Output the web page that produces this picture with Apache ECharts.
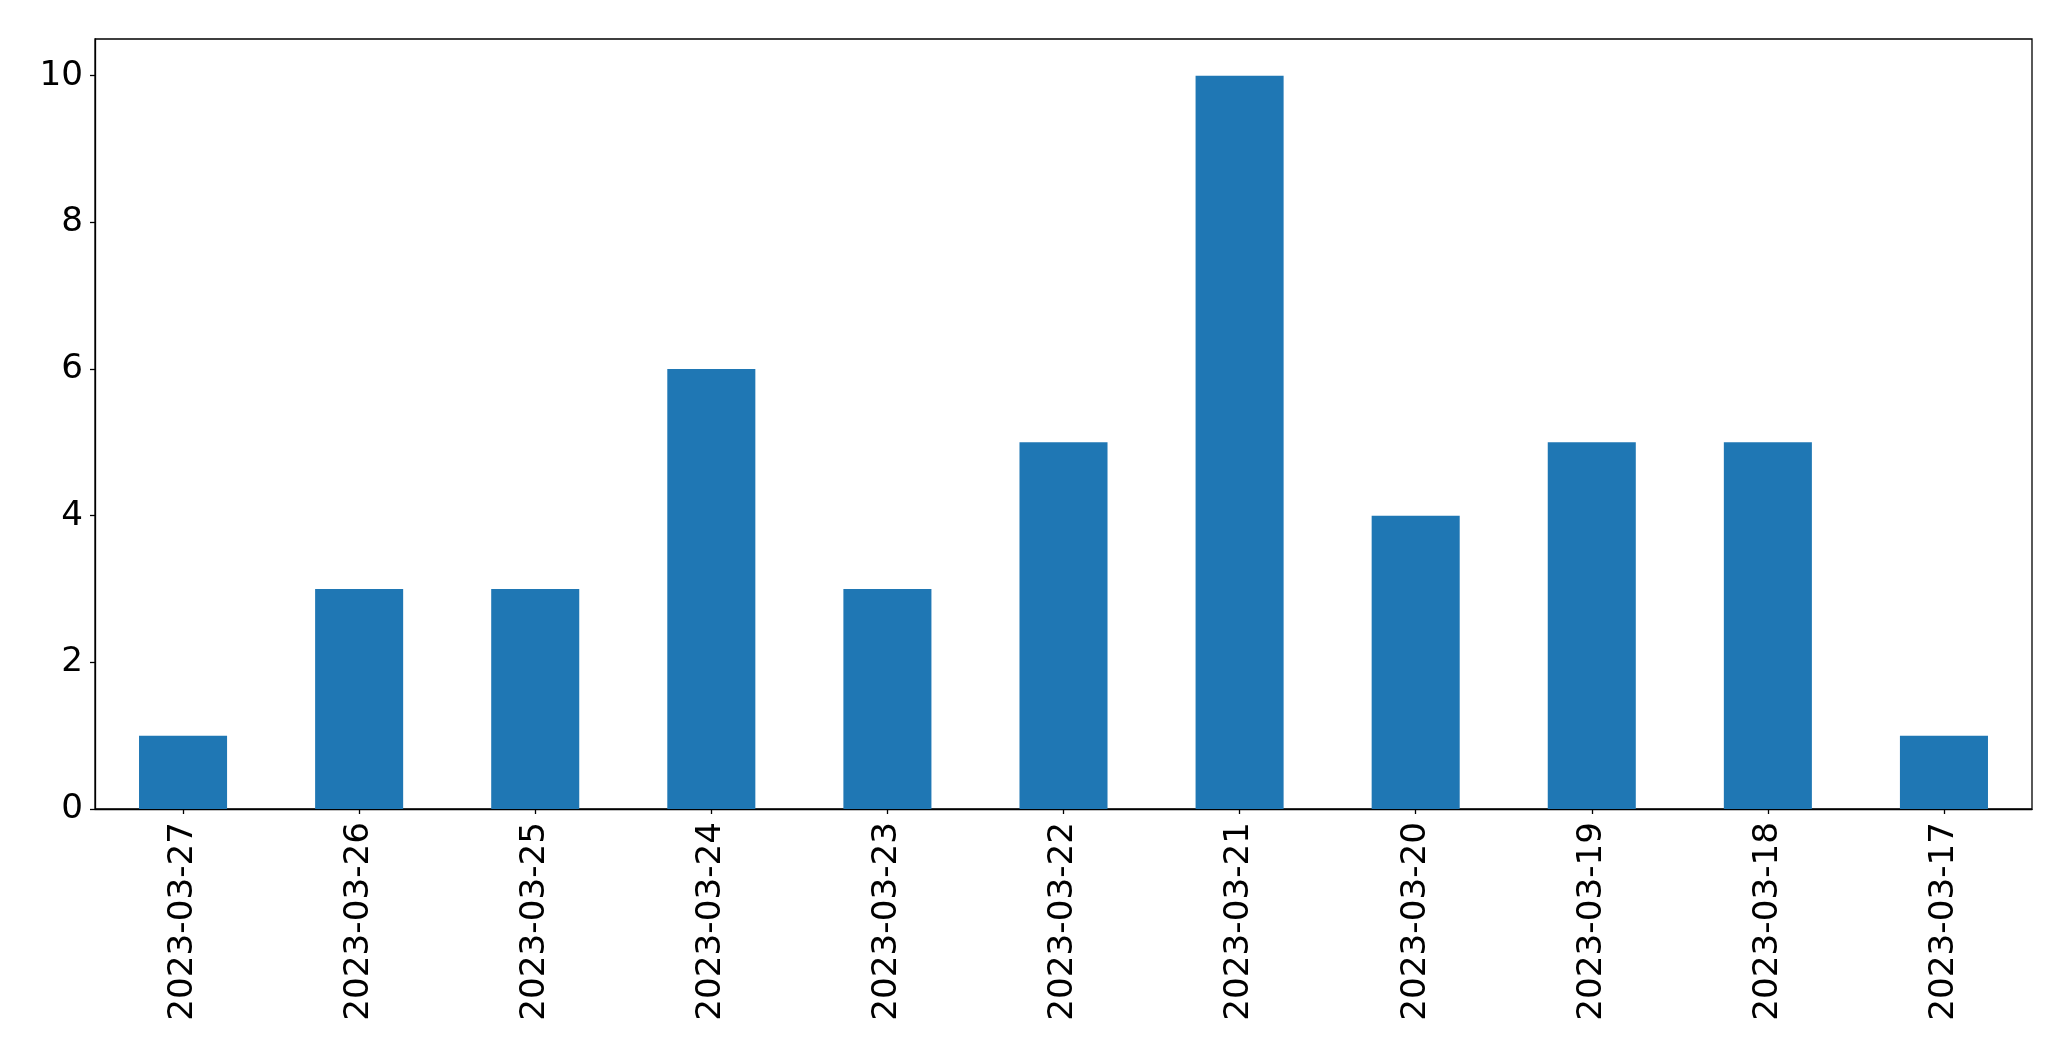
<!DOCTYPE html>
<html>
<head>
<meta charset="utf-8">
<script src="https://cdn.jsdelivr.net/npm/echarts@6/dist/echarts.min.js"></script>
<style>html,body{margin:0;padding:0;background:#fff;}#c{width:2071px;height:1061px;}</style>
</head>
<body>
<div id="c"></div>
<script>
const categories = ["2023-03-27","2023-03-26","2023-03-25","2023-03-24","2023-03-23","2023-03-22","2023-03-21","2023-03-20","2023-03-19","2023-03-18","2023-03-17"];
const counts = [1,3,3,6,3,5,10,4,5,5,1];
const yTicks = [0,2,4,6,8,10];

const chart = echarts.init(document.getElementById('c'), null, {renderer:'canvas'});
const font = 'DejaVu Sans';
chart.setOption({
  animation: false,
  grid: {left: 95, top: 39, right: 39, bottom: 252, show: true, borderColor: '#000', borderWidth: 1.3, backgroundColor: 'transparent'},
  xAxis: {
    type: 'category',
    data: categories,
    axisLine: {show: true, lineStyle: {color: '#000', width: 1.3}},
    axisTick: {show: true, alignWithLabel: true, length: 5, lineStyle: {color: '#000', width: 1.3}},
    axisLabel: {rotate: 90, color: '#000', fontFamily: font, fontSize: 34.2, margin: 13, interval: 0},
    splitLine: {show: false}
  },
  yAxis: {
    type: 'value',
    min: 0, max: 10.5, interval: 2,
    axisLine: {show: true, lineStyle: {color: '#000', width: 1.3}},
    axisTick: {show: true, length: 5, customValues: yTicks, lineStyle: {color: '#000', width: 1.3}},
    axisLabel: {color: '#000', fontFamily: font, fontSize: 34.2, margin: 12, customValues: yTicks},
    splitLine: {show: false}
  },
  series: [{
    type: 'bar',
    data: counts,
    barWidth: '50%',
    itemStyle: {color: '#1f77b4'}
  }]
});
</script>
</body>
</html>
